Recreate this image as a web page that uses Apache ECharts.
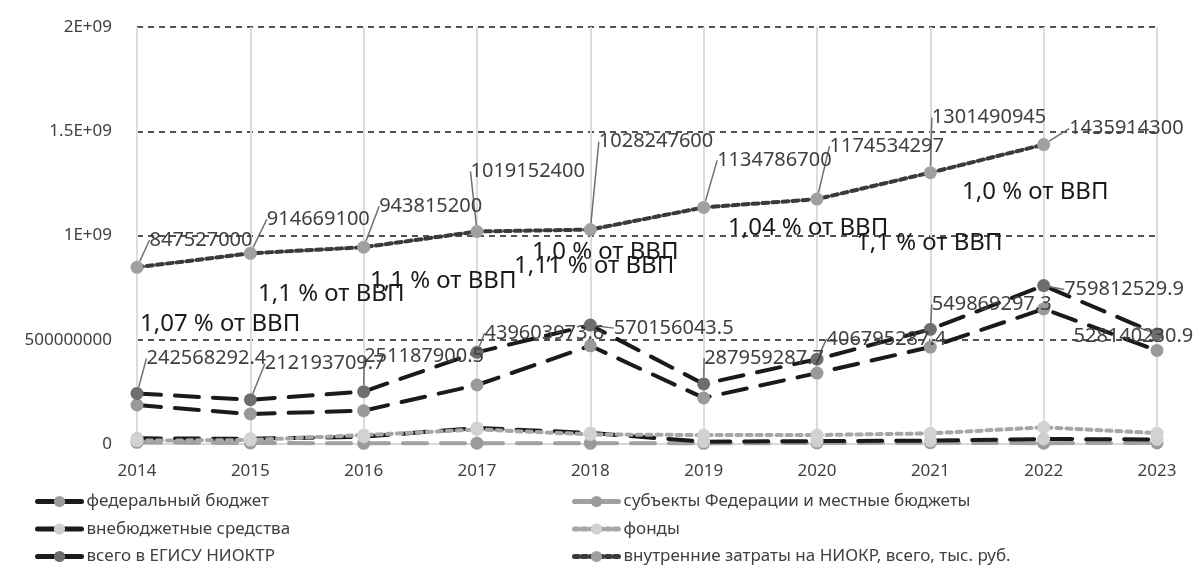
<!DOCTYPE html>
<html>
<head>
<meta charset="utf-8">
<script src="https://cdn.jsdelivr.net/npm/echarts@6/dist/echarts.min.js"></script>
<style>
  html, body { margin: 0; padding: 0; background: #fff; }
  #chart { width: 1195px; height: 574px; }
</style>
</head>
<body>
<div id="chart"></div>
<script>
// данные
const years = ['2014', '2015', '2016', '2017', '2018', '2019', '2020', '2021', '2022', '2023'];
const federal = [187e6, 144e6, 160e6, 283e6, 471e6, 221e6, 340e6, 465e6, 648e6, 449e6];
const regional = [8e6, 5e6, 3e6, 4e6, 3e6, 3e6, 5e6, 6e6, 4e6, 5e6];
const extraBudget = [27e6, 25e6, 35e6, 77e6, 53e6, 11e6, 14e6, 16e6, 24e6, 22e6];
const funds = [16e6, 19e6, 43e6, 70e6, 46e6, 43e6, 43e6, 51e6, 80e6, 52e6];
const egisuTotal = [242568292.4, 212193709.7, 251187900.5, 439603973.6, 570156043.5,
  287959287.7, 406795287.4, 549869297.3, 759812529.9, 528140230.9];
const rdCosts = [847527000, 914669100, 943815200, 1019152400, 1028247600,
  1134786700, 1174534297, 1301490945, 1435914300, null];
const yTickLabels = ['0', '500000000', '1E+09', '1.5E+09', '2E+09'];
const gdpNotes = ['1,07 % от ВВП', '1,1 % от ВВП', '1,1 % от ВВП', '1,11 % от ВВП',
  '1,0 % от ВВП', '1,04 % от ВВП', '1,1 % от ВВП', '1,0 % от ВВП'];
const names = ['федеральный бюджет', 'субъекты Федерации и местные бюджеты',
  'внебюджетные средства', 'фонды', 'всего в ЕГИСУ НИОКТР',
  'внутренние затраты на НИОКР, всего, тыс. руб.'];

const FONT = 'Noto Sans';
const TXT = '#404040';

// сдвиги подписей (dx, dy от позиции "right")
const rdShift = [[6, -27], [10, -34], [9, -41], [-13, -60], [2, -88], [7, -47], [6, -53], [-5, -55], [19, -16]];
const totalShift = [[3, -35], [8, -36], [-6, -35], [1, -19], [17, 3], [-6, -26], [3, -20], [-5, -25], [14, 4], [-90, 2]];
// позиции надписей про ВВП
const notePos = [[140, 328], [258, 298], [370, 285], [514, 270], [532, 256], [728, 232], [856, 247], [962, 196]];

function lineSeries(name, data, lineColor, dash, markColor) {
  return {
    name: name,
    type: 'line',
    data: data,
    symbol: 'circle',
    symbolSize: 13,
    lineStyle: { color: lineColor, width: 4, type: dash, cap: 'round' },
    itemStyle: { color: markColor },
    emphasis: { disabled: true }
  };
}

const series = [
  lineSeries(names[0], federal, '#1a1a1a', [24, 14], '#9a9a9a'),
  lineSeries(names[1], regional, '#a0a0a0', [24, 14], '#9a9a9a'),
  lineSeries(names[2], extraBudget, '#1a1a1a', [24, 14], '#cfcfcf'),
  lineSeries(names[3], funds, '#a6a6a6', [5, 5], '#d2d2d2'),
  lineSeries(names[4], egisuTotal, '#1a1a1a', [24, 14], '#6e6e6e'),
  lineSeries(names[5], rdCosts, '#3a3a3a', [6, 4], '#a0a0a0')
];

const valueLabel = {
  show: true,
  position: 'right',
  distance: 0,
  color: TXT,
  fontFamily: FONT,
  fontSize: 20,
  formatter: function (p) { return String(p.value); }
};
series[4].label = valueLabel;
series[4].labelLine = { show: true, lineStyle: { color: '#707070', width: 1.5 } };
series[4].labelLayout = function (p) {
  const s = totalShift[p.dataIndex] || [0, 0];
  return { dx: s[0], dy: s[1] };
};
series[5].label = valueLabel;
series[5].labelLine = { show: true, lineStyle: { color: '#707070', width: 1.5 } };
series[5].labelLayout = function (p) {
  const s = rdShift[p.dataIndex] || [0, 0];
  return { dx: s[0], dy: s[1] };
};

const noteTexts = gdpNotes.map(function (t, i) {
  return {
    type: 'text',
    left: notePos[i][0],
    top: notePos[i][1] - 16,
    z: 100,
    style: { text: t, fill: '#1a1a1a', font: '24px "' + FONT + '"' }
  };
});

// значки легенды: сплошная линия для штриховых рядов, точки для пунктирных
function legendItem(idx, dotted) {
  return { name: names[idx], lineStyle: { width: 5, type: dotted ? [4, 4] : 'solid' } };
}

const legendBase = {
  top: 488, orient: 'vertical', itemGap: 10.5,
  itemWidth: 44, itemHeight: 14,
  textStyle: { color: TXT, fontFamily: FONT, fontSize: 17 }
};

const myChart = echarts.init(document.getElementById('chart'));
const option = {
  backgroundColor: '#fff',
  animation: false,
  grid: { left: 137, right: 38, top: 27, bottom: 130, containLabel: false },
  xAxis: {
    type: 'category',
    data: years,
    boundaryGap: false,
    axisLine: { lineStyle: { color: '#d9d9d9', width: 2 } },
    axisTick: { show: false },
    axisLabel: { color: TXT, fontFamily: FONT, fontSize: 17, margin: 19 },
    splitLine: { show: true, lineStyle: { color: '#dcdcdc', width: 2 } }
  },
  yAxis: {
    type: 'value',
    min: 0,
    max: 2e9,
    interval: 5e8,
    axisLine: { show: false },
    axisTick: { show: false },
    axisLabel: {
      color: TXT, fontFamily: FONT, fontSize: 17, margin: 25,
      formatter: function (v) { return yTickLabels[Math.round(v / 5e8)]; }
    },
    splitLine: { lineStyle: { color: '#1a1a1a', width: 1.5, type: [6, 5] } }
  },
  legend: [
    Object.assign({ left: 30, data: [legendItem(0), legendItem(2), legendItem(4)] }, legendBase),
    Object.assign({ left: 567, data: [legendItem(1), legendItem(3, true), legendItem(5, true)] }, legendBase)
  ],
  graphic: noteTexts,
  series: series
};
myChart.setOption(option);
</script>
</body>
</html>
